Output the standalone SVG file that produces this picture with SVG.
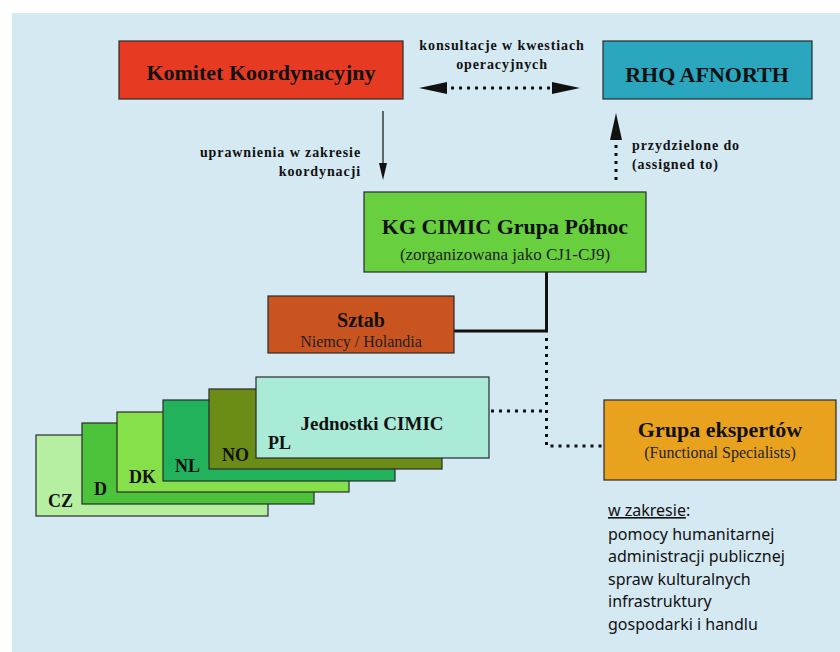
<svg xmlns="http://www.w3.org/2000/svg" width="840" height="652" viewBox="0 0 840 652">
<style>
.box{stroke:#2a2a2a;stroke-width:1.2}
.t{font-family:"Liberation Serif","Times New Roman",serif;font-weight:bold;fill:#111;text-anchor:middle}
.s{font-family:"Liberation Serif","Times New Roman",serif;fill:#222;text-anchor:middle}
.lb{font-family:"Liberation Serif","Times New Roman",serif;font-weight:bold;fill:#111;font-size:14px;letter-spacing:0.9px}
.st{font-family:"Liberation Serif","Times New Roman",serif;font-weight:bold;fill:#111;font-size:18px}
.li{font-family:"Noto Sans","DejaVu Sans",sans-serif;fill:#111;font-size:16px}
.dot{fill:none;stroke:#111;stroke-width:3;stroke-dasharray:3 5}
.solid{fill:none;stroke:#111;stroke-width:3}
</style>
<rect x="0" y="0" width="840" height="652" fill="#ffffff"/>
<rect x="12" y="13" width="828" height="639" fill="#d5e9f3"/>

<g id="connectors">
  <line class="dot" x1="451" y1="88" x2="550" y2="88"/>
  <polygon points="419,88 447,82 447,94" fill="#111"/>
  <polygon points="580,88 552,82 552,94" fill="#111"/>
  <line x1="383" y1="111" x2="383" y2="166" stroke="#111" stroke-width="1.2"/>
  <polygon points="383,180 379,163 387,163" fill="#111"/>
  <line class="dot" x1="616" y1="145" x2="616" y2="184"/>
  <polygon points="616,113 610,140 622,140" fill="#111"/>
  <polyline class="solid" points="546.5,272 546.5,331 454,331"/>
  <polyline class="dot" points="546.5,338 546.5,446 604,446"/>
  <line class="dot" x1="491" y1="411" x2="546" y2="411"/>
</g>

<g id="label-konsultacje">
  <text class="lb" x="502" y="50" text-anchor="middle">konsultacje w kwestiach</text>
  <text class="lb" x="502" y="69" text-anchor="middle">operacyjnych</text>
</g>
<g id="label-uprawnienia">
  <text class="lb" x="361" y="157" text-anchor="end">uprawnienia w zakresie</text>
  <text class="lb" x="361" y="176" text-anchor="end">koordynacji</text>
</g>
<g id="label-przydzielone">
  <text class="lb" x="632" y="150">przydzielone do</text>
  <text class="lb" x="632" y="169">(assigned to)</text>
</g>

<g id="komitet">
  <rect class="box" x="119" y="41" width="284" height="58" fill="#e63b22" stroke="#7a1a10"/>
  <text class="t" x="261" y="80" font-size="22">Komitet Koordynacyjny</text>
</g>
<g id="rhq">
  <rect class="box" x="603" y="41" width="209" height="58" fill="#2aa6be"/>
  <text class="t" x="707" y="82" font-size="22">RHQ AFNORTH</text>
</g>
<g id="kg">
  <rect class="box" x="364" y="192" width="282" height="80" fill="#68cf3e"/>
  <text class="t" x="505" y="234" font-size="22">KG CIMIC Grupa Północ</text>
  <text class="s" x="505" y="260" font-size="17">(zorganizowana jako CJ1-CJ9)</text>
</g>
<g id="sztab">
  <rect class="box" x="268" y="296" width="186" height="57" fill="#c9541f"/>
  <text class="t" x="361" y="327" font-size="20">Sztab</text>
  <text class="s" x="361" y="347" font-size="16">Niemcy / Holandia</text>
</g>
<g id="grupa">
  <rect class="box" x="604" y="400" width="232" height="80" fill="#e9a21e"/>
  <text class="t" x="720" y="437" font-size="22">Grupa ekspertów</text>
  <text class="s" x="720" y="458" font-size="16">(Functional Specialists)</text>
</g>

<g id="unit-cz">
  <rect class="box" x="36" y="435" width="232" height="81" fill="#b6eea2"/>
  <text class="st" x="48" y="507">CZ</text>
</g>
<g id="unit-d">
  <rect class="box" x="82" y="423" width="232" height="81" fill="#4dc23b"/>
  <text class="st" x="94" y="495">D</text>
</g>
<g id="unit-dk">
  <rect class="box" x="117" y="412" width="232" height="80" fill="#86e04a"/>
  <text class="st" x="129" y="483">DK</text>
</g>
<g id="unit-nl">
  <rect class="box" x="163" y="400" width="232" height="81" fill="#22b25c"/>
  <text class="st" x="175" y="472">NL</text>
</g>
<g id="unit-no">
  <rect class="box" x="209" y="389" width="233" height="80" fill="#6b8c16"/>
  <text class="st" x="222" y="461">NO</text>
</g>
<g id="unit-pl">
  <rect class="box" x="256" y="377" width="233" height="81" fill="#a9ebd7"/>
  <text class="st" x="268" y="449">PL</text>
  <text class="t" x="372" y="430" font-size="19">Jednostki CIMIC</text>
</g>

<g id="zakres">
  <text class="li" x="608" y="516"><tspan text-decoration="underline">w zakresie</tspan>:</text>
  <text class="li" x="608" y="540">pomocy humanitarnej</text>
  <text class="li" x="608" y="562">administracji publicznej</text>
  <text class="li" x="608" y="585">spraw kulturalnych</text>
  <text class="li" x="608" y="607">infrastruktury</text>
  <text class="li" x="608" y="630">gospodarki i handlu</text>
</g>
</svg>
